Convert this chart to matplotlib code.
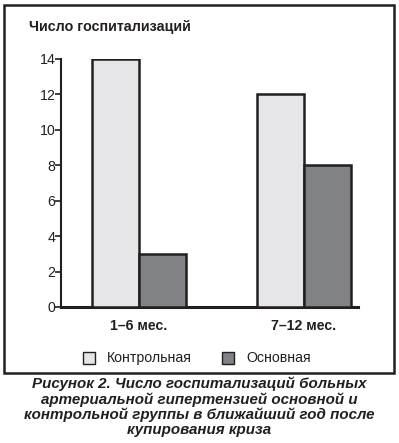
import matplotlib
matplotlib.use("Agg")
import matplotlib.pyplot as plt
from matplotlib.patches import Rectangle
import numpy as np

plt.rcParams['font.family'] = ['Liberation Sans', 'DejaVu Sans']

categories = ["1–6 мес.", "7–12 мес."]
series_names = ["Контрольная", "Основная"]
control = [14, 12]
main = [3, 8]
yticks = [0, 2, 4, 6, 8, 10, 12, 14]
colors = ["#e6e6e8", "#808285"]

W, H = 399, 443
fig = plt.figure(figsize=(W/100, H/100), dpi=100)

def fx(px): return px / W
def fy(py): return 1 - py / H

# outer frame
fig.patches.append(Rectangle((fx(4), fy(373)), fx(394) - fx(4), fy(5) - fy(373),
                             transform=fig.transFigure, fill=False, edgecolor="#231f20",
                             linewidth=1.8))

ax = fig.add_axes([fx(61), fy(307), fx(358) - fx(61), fy(59) - fy(307)])
x = np.arange(len(categories))
w = 0.285
ax.bar(x - w/2, control, width=w, color=colors[0], edgecolor="#231f20", linewidth=1.8, zorder=3)
ax.bar(x + w/2, main, width=w, color=colors[1], edgecolor="#231f20", linewidth=1.8, zorder=3)
ax.set_xlim(-0.473, 1.327)
ax.set_ylim(0, 14)
ax.set_yticks(yticks)
ax.set_yticklabels([str(v) for v in yticks], fontsize=10.2)
ax.tick_params(axis='y', direction='out', length=4, width=1.2, pad=0, colors="#231f20")
ax.set_xticks([])
for s in ["top", "right"]:
    ax.spines[s].set_visible(False)
ax.spines["left"].set_linewidth(1.5)
ax.spines["bottom"].set_linewidth(2.2)
ax.spines["left"].set_color("#231f20")
ax.spines["bottom"].set_color("#231f20")
ax.patch.set_alpha(0)

for xi, c in zip(x, categories):
    ax.text(xi, -1.05, c, ha="center", va="center", fontsize=10.2, fontweight="bold", color="#231f20")

fig.text(fx(29), fy(27), "Число госпитализаций", ha="left", va="center",
         fontsize=10.3, fontweight="bold", color="#231f20")

# legend
for px, name, col in [(83, series_names[0], colors[0]), (222, series_names[1], colors[1])]:
    fig.patches.append(Rectangle((fx(px), fy(364)), fx(12), 12 / H, transform=fig.transFigure,
                                 facecolor=col, edgecolor="#231f20", linewidth=1.0))
    fig.text(fx(px + 24), fy(358), name, ha="left", va="center", fontsize=10.2, color="#231f20")

caption = ["Рисунок 2. Число госпитализаций больных",
           "артериальной гипертензией основной и",
           "контрольной группы в ближайший год после",
           "купирования криза"]
for i, line in enumerate(caption):
    fig.text(0.5, fy(384 + 15.3 * i), line, ha="center", va="center", fontsize=10.9,
             fontweight="bold", fontstyle="italic", color="#231f20")

fig.savefig("out.png", dpi=100)
